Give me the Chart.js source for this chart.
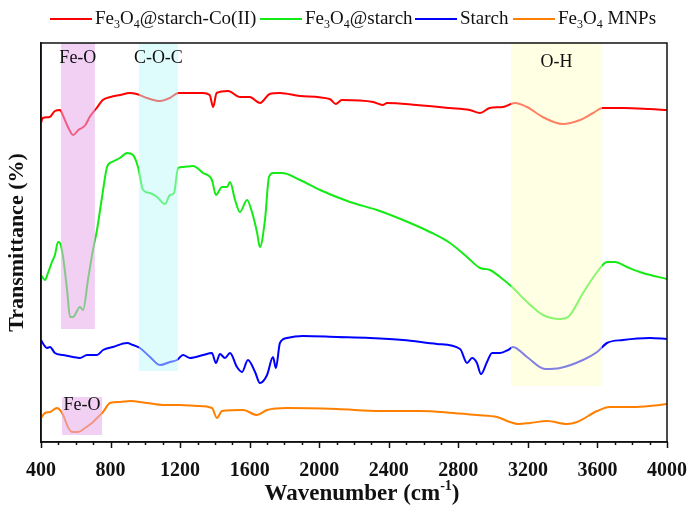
<!DOCTYPE html>
<html>
<head>
<meta charset="utf-8">
<script src="https://cdn.jsdelivr.net/npm/chart.js@4.4.0/dist/chart.umd.min.js"></script>
<style>
  body { margin: 0; background: #fff; }
  #wrap { position: relative; width: 689px; height: 507px; }
  #legend { position: absolute; top: 0; left: 0; width: 689px; height: 36px; font-family: "Liberation Serif", serif; font-size: 19px; color: #111; }
  .item { position: absolute; top: 7px; white-space: nowrap; line-height: 22px; }
  .swatch { display: inline-block; width: 42px; height: 2px; vertical-align: middle; margin-right: 3px; position: relative; top: -1px; }
  sub { font-size: 12px; vertical-align: -4px; line-height: 0; }
</style>
</head>
<body>
<div id="wrap">
  <canvas id="myChart" width="689" height="507"></canvas>
  <div id="legend">
    <span class="item" style="left:50px"><span class="swatch" style="background:rgb(255,0,0)"></span>Fe<sub>3</sub>O<sub>4</sub>@starch-Co(II)</span>
    <span class="item" style="left:260px"><span class="swatch" style="background:rgb(20,235,20)"></span>Fe<sub>3</sub>O<sub>4</sub>@starch</span>
    <span class="item" style="left:415px"><span class="swatch" style="background:rgb(0,0,255)"></span>Starch</span>
    <span class="item" style="left:513px"><span class="swatch" style="background:rgb(255,128,0)"></span>Fe<sub>3</sub>O<sub>4</sub> MNPs</span>
  </div>
</div>
<script>
// wavenumber (cm-1) / transmittance (arbitrary, offset traces)
var wnCo = [400,410,450,480,510,525,555,585,615,635,655,680,720,755,800,855,910,950,1010,1085,1140,1190,1255,1330,1370,1390,1410,1475,1545,1600,1660,1715,1775,1890,2060,2095,2130,2310,2365,2390,2560,2750,2865,2925,2980,3055,3125,3195,3285,3400,3500,3575,3630,3750,3900,4000];
var tCo  = [319,324,325,331,332,327,315,307,312,314,317,325,334,342,345,347,349,348,344,341,344,349,349,349,347,335,349,351,345,345,339,348,349,346,343,338,342,340,337,339,337,334,332,329,334,335,339,335,325,318,322,329,334,334,333,332];

var wnFs = [400,411,423,440,463,480,498,509,527,550,567,584,624,642,670,699,722,751,780,808,854,895,929,958,987,1027,1067,1113,1142,1165,1188,1217,1274,1332,1383,1406,1441,1470,1487,1516,1544,1585,1613,1642,1659,1688,1711,1734,1786,1890,2005,2177,2332,2482,2637,2752,2850,2925,2982,3040,3109,3195,3287,3385,3431,3517,3598,3655,3701,3770,3862,4000];
var tFs  = [167,164,162,169,180,187,200,199,185,152,125,125,135,132,162,192,212,245,275,280,284,289,287,275,252,249,245,238,247,249,274,275,276,269,262,247,255,255,260,242,230,242,230,210,195,222,265,269,269,262,252,240,232,222,210,199,185,174,172,165,155,140,127,123,125,149,170,180,180,175,169,163];

var wnSt = [400,417,434,452,480,527,584,624,665,722,757,814,895,929,969,1027,1084,1142,1182,1217,1257,1332,1383,1406,1429,1458,1487,1527,1556,1590,1631,1659,1700,1734,1751,1774,1815,1907,2102,2292,2482,2677,2810,2850,2879,2907,2930,2965,2994,3040,3086,3114,3195,3299,3385,3517,3598,3655,3747,3902,4000];
var tSt  = [102,97,94,95,89,87,85,84,87,87,92,95,99,97,94,85,77,80,82,87,84,87,89,79,88,84,89,75,70,82,70,59,67,85,74,99,104,106,105,104,102,98,93,79,84,79,68,80,89,89,92,95,85,73,74,82,90,99,102,104,103];

var wnFe = [400,423,452,492,509,527,555,578,613,653,693,722,757,797,854,912,1010,1102,1199,1297,1383,1412,1441,1562,1642,1700,1815,2102,2350,2580,2770,2907,3023,3097,3143,3212,3310,3425,3483,3598,3672,3805,3902,4000];
var tFe  = [24,29,30,34,32,27,15,10,10,14,19,24,30,39,40,41,39,37,37,36,34,24,31,32,27,32,34,33,31,31,29,27,25,20,18,19,21,18,20,31,35,35,36,38];

var seriesNames = ['Fe3O4@starch-Co(II)', 'Fe3O4@starch', 'Starch', 'Fe3O4 MNPs'];
var seriesColors = ['rgb(255,0,0)', 'rgb(20,235,20)', 'rgb(0,0,255)', 'rgb(255,128,0)'];
var xTicks = [400,800,1200,1600,2000,2400,2800,3200,3600,4000];

// highlighted bands: [from, to, bottom, top, fill, label]
var bands = [
  [515, 710, 113, 399, 'rgba(230,170,235,0.55)', 'Fe-O'],
  [963, 1188, 71, 399, 'rgba(190,250,250,0.5)', 'C-O-C'],
  [3103, 3626, 56, 399, 'rgba(255,255,200,0.5)', 'O-H'],
  [521, 751, 7, 45, 'rgba(230,170,235,0.55)', 'Fe-O']
];

function pts(xs, ys) {
  var out = [];
  for (var i = 0; i < xs.length; i++) out.push({x: xs[i], y: ys[i]});
  return out;
}

var bandPlugin = {
  id: 'bands',
  afterDatasetsDraw(chart) {
    var ctx = chart.ctx, xs = chart.scales.x, ys = chart.scales.y;
    ctx.save();
    bands.forEach(function (b) {
      var x0 = xs.getPixelForValue(b[0]), x1 = xs.getPixelForValue(b[1]);
      var y0 = ys.getPixelForValue(b[3]), y1 = ys.getPixelForValue(b[2]);
      ctx.fillStyle = b[4];
      ctx.fillRect(x0, y0, x1 - x0, y1 - y0);
    });
    ctx.fillStyle = '#111';
    ctx.font = '18px "Liberation Serif"';
    ctx.textAlign = 'center';
    ctx.textBaseline = 'middle';
    ctx.fillText(bands[0][5], xs.getPixelForValue(612), 58);
    ctx.fillText(bands[1][5], xs.getPixelForValue(1075), 58);
    ctx.fillText(bands[2][5], xs.getPixelForValue(3365), 62);
    ctx.fillText(bands[3][5], xs.getPixelForValue(636), ys.getPixelForValue(37));
    ctx.restore();
  },
  afterDraw(chart) {
    var ctx = chart.ctx, a = chart.chartArea, xs = chart.scales.x;
    ctx.save();
    ctx.strokeStyle = '#111';
    ctx.lineWidth = 1.5;
    ctx.strokeRect(a.left, a.top, a.right - a.left, a.bottom - a.top);
    // major + minor tick marks
    ctx.beginPath();
    for (var v = 400; v <= 4000; v += 100) {
      var px = Math.round(xs.getPixelForValue(v)) + 0.5;
      ctx.moveTo(px, a.bottom);
      ctx.lineTo(px, a.bottom + (v % 400 === 0 ? 6 : 3));
    }
    ctx.stroke();
    // x title with superscript
    var t1 = 'Wavenumber (cm', t2 = '-1', t3 = ')';
    ctx.fillStyle = '#111';
    ctx.textBaseline = 'alphabetic';
    ctx.textAlign = 'left';
    ctx.font = 'bold 23px "Liberation Serif"';
    var w1 = ctx.measureText(t1).width, w3 = ctx.measureText(t3).width;
    ctx.font = 'bold 14px "Liberation Serif"';
    var w2 = ctx.measureText(t2).width;
    var cx = (a.left + a.right) / 2 + 8;
    var sx = cx - (w1 + w2 + w3) / 2;
    ctx.font = 'bold 23px "Liberation Serif"';
    ctx.fillText(t1, sx, 500);
    ctx.fillText(t3, sx + w1 + w2, 500);
    ctx.font = 'bold 14px "Liberation Serif"';
    ctx.fillText(t2, sx + w1, 490);
    ctx.restore();
  }
};

var datasets = [
  {label: seriesNames[0], data: pts(wnCo, tCo), borderColor: seriesColors[0]},
  {label: seriesNames[1], data: pts(wnFs, tFs), borderColor: seriesColors[1]},
  {label: seriesNames[2], data: pts(wnSt, tSt), borderColor: seriesColors[2]},
  {label: seriesNames[3], data: pts(wnFe, tFe), borderColor: seriesColors[3]}
];
datasets.forEach(function (d) {
  d.borderWidth = 2;
  d.pointRadius = 0;
  d.cubicInterpolationMode = 'monotone';
  d.fill = false;
});

var myChart = new Chart(document.getElementById('myChart'), {
  type: 'line',
  data: { datasets: datasets },
  options: {
    responsive: false,
    animation: false,
    layout: { padding: { top: 43, right: 22, left: 0, bottom: 0 } },
    plugins: { legend: { display: false }, tooltip: { enabled: false } },
    scales: {
      x: {
        type: 'linear',
        min: 400,
        max: 4000,
        afterBuildTicks: function (s) { s.ticks = xTicks.map(function (v) { return {value: v}; }); },
        afterFit: function (s) { s.height = 65; s.paddingLeft = 0; s.paddingRight = 0; },
        ticks: {
          color: '#111', padding: 9, maxRotation: 0, autoSkip: false,
          font: { family: 'Liberation Serif', size: 20, weight: 'bold' },
          callback: function (v) { return String(v); }
        },
        grid: { display: false },
        border: { display: true, color: '#111', width: 1.5 }
      },
      y: {
        min: 0,
        max: 399,
        afterFit: function (s) { s.width = 41; s.paddingTop = 0; s.paddingBottom = 0; },
        ticks: { display: false },
        grid: { display: false },
        border: { display: true, color: '#111', width: 1.5 },
        title: { display: true, text: 'Transmittance (%)', color: '#111', padding: 4, font: { family: 'Liberation Serif', size: 22, weight: 'bold' } }
      }
    }
  },
  plugins: [bandPlugin]
});
</script>
</body>
</html>
